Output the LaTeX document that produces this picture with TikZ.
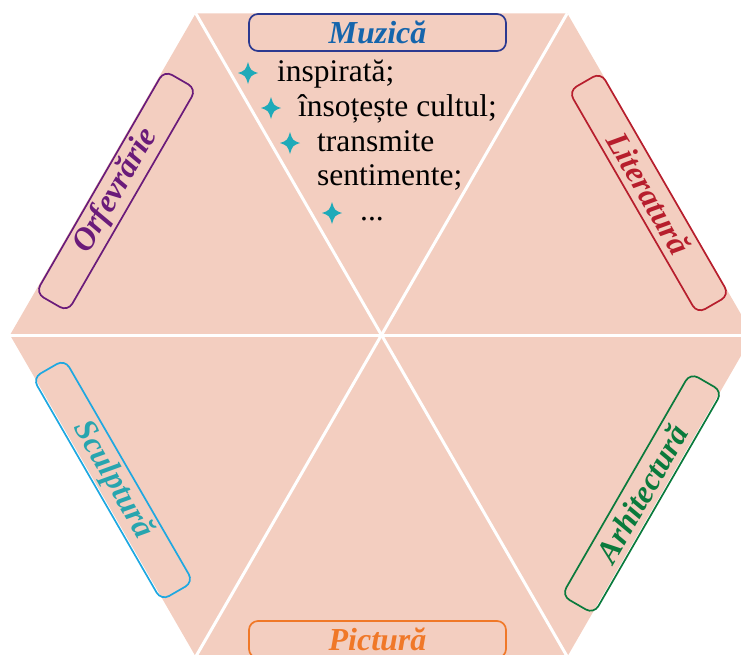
\documentclass[tikz,border=0pt]{standalone}
\usepackage{fontspec}
\setmainfont{Liberation Serif}
\usepackage{xcolor}

\definecolor{hexpink}{RGB}{243,206,192}
\definecolor{muzicaframe}{RGB}{43,57,144}
\definecolor{muzicablue}{RGB}{21,101,172}
\definecolor{orfpurple}{RGB}{106,27,122}
\definecolor{litred}{RGB}{183,30,45}
\definecolor{sculptframe}{RGB}{30,168,225}
\definecolor{sculpttext}{RGB}{40,165,175}
\definecolor{archgreen}{RGB}{10,122,60}
\definecolor{pictorange}{RGB}{240,120,40}
\definecolor{sparkteal}{RGB}{30,170,185}

\tikzset{
    sparkle/.pic={
        \fill[sparkteal] (0,-11) .. controls (2.6,-2.6) .. (10,0)
            .. controls (2.6,2.6) .. (0,11)
            .. controls (-2.6,2.6) .. (-10,0)
            .. controls (-2.6,-2.6) .. cycle;
    }
}

\begin{document}
\begin{tikzpicture}[
    x=1pt, y=-1pt,
    tag/.style={draw, line width=1.7pt, rounded corners=9pt, minimum width=257pt,
                minimum height=37pt, inner sep=0pt,
                font=\fontsize{32}{32}\selectfont\bfseries\itshape},
    item/.style={anchor=base west, inner sep=0pt, text=black,
                 font=\fontsize{31.5}{35}\selectfont},
    divider/.style={white, line width=3pt}
]
\useasboundingbox (0,0) rectangle (741,654);
\clip (0,0) rectangle (741,654);

% Hexagon
\coordinate (ctr) at (381.5,335);
\coordinate (vE) at (753,335);
\coordinate (vNE) at (567.25,13.3);
\coordinate (vNW) at (195.75,13.3);
\coordinate (vW) at (10,335);
\coordinate (vSW) at (195.75,656.7);
\coordinate (vSE) at (567.25,656.7);
\fill[hexpink] (vE) -- (vNE) -- (vNW) -- (vW) -- (vSW) -- (vSE) -- cycle;
\foreach \v in {vE,vNE,vNW,vW,vSW,vSE}
    \draw[divider] (ctr) -- (\v);

% Top and bottom tags
\node[tag, draw=muzicaframe, text=muzicablue] (muzica) at (377.5,32.5) {Muzică};
\node[tag, draw=pictorange, text=pictorange] (pictura) at (377.5,639.5) {Pictură};

% Slanted tags
\node[tag, rotate=60, draw=orfpurple, text=orfpurple] (orfevrarie) at (116,191) {Orfevrărie};
\node[tag, rotate=-60, draw=litred, text=litred] (literatura) at (649,193) {Literatură};
\node[tag, rotate=-60, draw=sculptframe, text=sculpttext] (sculptura) at (113,480) {Sculptură};
\node[tag, rotate=60, draw=archgreen, text=archgreen] (arhitectura) at (642,493.5) {Arhitectură};

% Music list
\pic (s1) at (248,73) {sparkle};
\node[item] (inspirata) at (277,81.5) {inspirată;};
\pic (s2) at (271,108) {sparkle};
\node[item] (cultul) at (298,116.5) {însoțește cultul;};
\pic (s3) at (290,143) {sparkle};
\node[item] (transmite) at (317,151) {transmite};
\node[item] (sentimente) at (317,185.5) {sentimente;};
\pic (s4) at (332,213) {sparkle};
\node[item] (etc) at (360,220) {...};

\end{tikzpicture}
\end{document}
